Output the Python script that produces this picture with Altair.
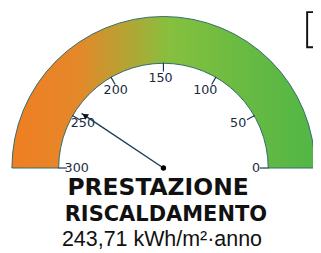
import math
import altair as alt
import pandas as pd

# ---- data ----
gauge_min = 0
gauge_max = 300
tick_values = [0, 50, 100, 150, 200, 250, 300]
needle_value = 243.71
title_lines = ["PRESTAZIONE", "RISCALDAMENTO"]
title_sizes = [24, 21.5]
unit_label = "kWh/m²·anno"

value_text = f"{needle_value:.2f}".replace(".", ",") + " " + unit_label

# ---- layout (view pixels) ----
W, H = 313, 245
CX, CY = 159.5, 161.0
R_OUT = 155.5
R_IN = 107.5

xs = alt.Scale(domain=[-1, 1], range=[CX - R_OUT, CX + R_OUT])
ys = alt.Scale(domain=[-1, 1], range=[CY + R_OUT, CY - R_OUT])
theta_scale = alt.Scale(domain=[gauge_min, gauge_max], range=[2.5 * math.pi, 1.5 * math.pi])

ANG = f"((datum.v - {gauge_min}) / ({gauge_max} - {gauge_min})) * PI"

band_df = pd.DataFrame({"start": [gauge_min], "end": [gauge_max], "cx": [0], "cy": [0]})
ticks_df = pd.DataFrame({"v": tick_values})
needle_df = pd.DataFrame({"v": [needle_value]})

gradient = alt.LinearGradient(
    gradient="linear",
    stops=[
        alt.GradientStop(color="#f07e22", offset=0),
        alt.GradientStop(color="#e4882a", offset=0.22),
        alt.GradientStop(color="#b4a434", offset=0.38),
        alt.GradientStop(color="#86c03e", offset=0.52),
        alt.GradientStop(color="#6abb42", offset=0.75),
        alt.GradientStop(color="#52b646", offset=1),
    ],
    x1=0, x2=1, y1=0, y2=0,
)

band = alt.Chart(band_df).mark_arc(
    radius=R_IN, radius2=R_OUT, color=gradient, stroke="#2e6b6b", strokeWidth=1
).encode(
    x=alt.X("cx:Q", scale=xs, axis=None),
    y=alt.Y("cy:Q", scale=ys, axis=None),
    theta=alt.Theta("start:Q", scale=theta_scale, stack=False),
    theta2="end:Q",
)

r1 = 99 / R_OUT
r2 = 108 / R_OUT
ticks = alt.Chart(ticks_df).transform_calculate(
    a=ANG
).transform_calculate(
    x=f"cos(datum.a) * {r1}", y=f"sin(datum.a) * {r1}",
    x2=f"cos(datum.a) * {r2}", y2=f"sin(datum.a) * {r2}",
).mark_rule(color="#1c3550", strokeWidth=1.2).encode(
    x=alt.X("x:Q", scale=xs, axis=None),
    y=alt.Y("y:Q", scale=ys, axis=None),
    x2="x2:Q",
    y2="y2:Q",
)

rl = 92 / R_OUT
shift = 3 / R_OUT
labels = alt.Chart(ticks_df).transform_calculate(
    a=ANG
).transform_calculate(
    x=f"cos(datum.a) * {rl} + (abs(cos(datum.a)) > 0.9 ? {shift} : -{shift})",
    y=f"sin(datum.a) * {rl}",
    t="format(datum.v, 'd')",
).mark_text(
    font="DejaVu Sans", fontSize=13, color="#1a2a40", baseline="middle", align="center"
).encode(
    x=alt.X("x:Q", scale=xs, axis=None),
    y=alt.Y("y:Q", scale=ys, axis=None),
    text="t:N",
)

rn = 101 / R_OUT
rh = 97 / R_OUT
needle = alt.Chart(needle_df).transform_calculate(
    a=ANG
).transform_calculate(
    x0="0", y0="0", x=f"cos(datum.a) * {rn}", y=f"sin(datum.a) * {rn}"
).mark_rule(color="#1d3f55", strokeWidth=1.5).encode(
    x=alt.X("x0:Q", scale=xs, axis=None),
    y=alt.Y("y0:Q", scale=ys, axis=None),
    x2="x:Q",
    y2="y:Q",
)

head = alt.Chart(needle_df).transform_calculate(
    a=ANG
).transform_calculate(
    x=f"cos(datum.a) * {rh}", y=f"sin(datum.a) * {rh}",
    rot="450 - datum.a * 180 / PI",
).mark_point(shape="triangle-up", filled=True, color="#111111", size=45, opacity=1).encode(
    x=alt.X("x:Q", scale=xs, axis=None),
    y=alt.Y("y:Q", scale=ys, axis=None),
    angle=alt.Angle("rot:Q", scale=None),
)

hub = alt.Chart(needle_df).transform_calculate(
    x0="0", y0="0"
).mark_point(shape="circle", filled=True, color="#000000", size=30, opacity=1).encode(
    x=alt.X("x0:Q", scale=xs, axis=None),
    y=alt.Y("y0:Q", scale=ys, axis=None),
)

title_df = pd.DataFrame({"line": title_lines, "fs": title_sizes,
                         "px": [154, 162], "py": [189, 215]})
title = alt.Chart(title_df).mark_text(
    font="DejaVu Sans", fontWeight="bold", color="#111111",
    align="center", baseline="alphabetic",
).encode(
    x=alt.X("px:Q", scale=None),
    y=alt.Y("py:Q", scale=None),
    size=alt.Size("fs:Q", scale=None),
    text="line:N",
)

value = alt.Chart(pd.DataFrame({"t": [value_text]})).mark_text(
    font="Liberation Sans", fontSize=22, color="#111111", align="center", baseline="alphabetic",
).encode(
    x=alt.value(158),
    y=alt.value(241),
    text="t:N",
)

box = alt.Chart(pd.DataFrame({"k": [1]})).mark_rect(
    fill="white", stroke="#111111", strokeWidth=2
).encode(
    x=alt.value(307), x2=alt.value(330), y=alt.value(1), y2=alt.value(37),
)

chart = alt.layer(band, ticks, labels, needle, head, hub, title, value, box).properties(
    width=W, height=H, padding=0, autosize=alt.AutoSizeParams(type="none")
).configure_view(stroke=None)

chart.save("out.html", embed_options={"renderer": "svg", "actions": False})
